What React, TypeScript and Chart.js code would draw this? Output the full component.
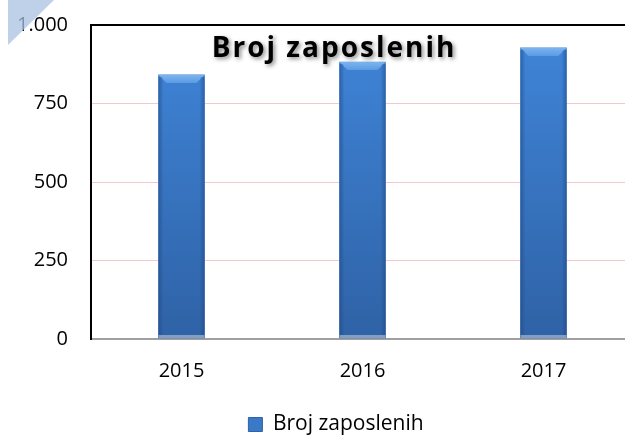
import React, { useEffect, useRef } from "react";
import { Chart, registerables } from "chart.js";

Chart.register(...registerables);

const categories = ["2015", "2016", "2017"];
const seriesName = "Broj zaposlenih";
const values = [841, 882, 927];
const yTicks = [0, 250, 500, 750, 1000];
const titleText = "Broj zaposlenih";

const FONT = "'Open Sans', 'DejaVu Sans', sans-serif";

const barBevelPlugin = {
  id: "barBevel",
  afterDatasetsDraw(chart: any) {
    const ctx = chart.ctx;
    const meta = chart.getDatasetMeta(0);
    meta.data.forEach((bar: any) => {
      const { x, y, width, base } = bar.getProps(["x", "y", "width", "base"], true);
      const l = x - width / 2;
      const r = x + width / 2;
      const bev = 8;
      ctx.save();
      const g = ctx.createLinearGradient(0, y, 0, y + bev);
      g.addColorStop(0, "#7db4ee");
      g.addColorStop(1, "#5a9be4");
      ctx.fillStyle = g;
      ctx.beginPath();
      ctx.moveTo(l, y);
      ctx.lineTo(r, y);
      ctx.lineTo(r - bev, y + bev);
      ctx.lineTo(l + bev, y + bev);
      ctx.closePath();
      ctx.fill();
      const gl = ctx.createLinearGradient(l, 0, l + 5, 0);
      gl.addColorStop(0, "rgba(30,70,130,0.55)");
      gl.addColorStop(1, "rgba(30,70,130,0)");
      ctx.fillStyle = gl;
      ctx.fillRect(l, y + 2, 5, base - y - 2);
      const gr = ctx.createLinearGradient(r - 5, 0, r, 0);
      gr.addColorStop(0, "rgba(30,70,130,0)");
      gr.addColorStop(1, "rgba(30,70,130,0.55)");
      ctx.fillStyle = gr;
      ctx.fillRect(r - 5, y + 2, 5, base - y - 2);
      ctx.fillStyle = "rgba(140,165,200,0.9)";
      ctx.fillRect(l, base - 3, width, 3);
      ctx.restore();
    });
  },
};

const overlayPlugin = {
  id: "overlay",
  afterLayout(chart: any) {
    if (chart.legend) {
      chart.legend.left = 38;
    }
  },
  afterDraw(chart: any) {
    const ctx = chart.ctx;
    ctx.save();
    ctx.font = `bold 28px ${FONT}`;
    (ctx as any).letterSpacing = "2px";
    ctx.textAlign = "center";
    ctx.textBaseline = "alphabetic";
    ctx.shadowColor = "rgba(0,0,0,0.45)";
    ctx.shadowBlur = 4;
    ctx.shadowOffsetX = 2;
    ctx.shadowOffsetY = 2;
    ctx.fillStyle = "#000";
    ctx.fillText(titleText, 334, 57);
    ctx.restore();
    ctx.save();
    ctx.fillStyle = "rgba(170,192,226,0.75)";
    ctx.beginPath();
    ctx.moveTo(8, 0);
    ctx.lineTo(54, 0);
    ctx.lineTo(8, 45);
    ctx.closePath();
    ctx.fill();
    ctx.restore();
  },
};

export default function App() {
  const ref = useRef<HTMLCanvasElement | null>(null);

  useEffect(() => {
    if (!ref.current) return;
    const chart = new Chart(ref.current, {
      type: "bar",
      data: {
        labels: categories,
        datasets: [
          {
            label: seriesName,
            data: values,
            barThickness: 46,
            borderWidth: 0,
            backgroundColor: (c: any) => {
              const area = c.chart.chartArea;
              if (!area) return "#3a78c8";
              const g = c.chart.ctx.createLinearGradient(0, area.top, 0, area.bottom);
              g.addColorStop(0, "#4086da");
              g.addColorStop(1, "#2f62a6");
              return g;
            },
          },
        ],
      },
      options: {
        animation: false,
        responsive: false,
        maintainAspectRatio: false,
        layout: { padding: { left: 0, right: 6, top: 25, bottom: 0 } },
        scales: {
          x: {
            grid: { display: false, drawTicks: false },
            border: { display: true, color: "#a0a0a0", width: 2 },
            ticks: { color: "#000", font: { family: FONT, size: 20 }, padding: 20 },
            afterFit: (s: any) => {
              s.height = 69;
              s.paddingLeft = 0;
              s.paddingRight = 0;
            },
          },
          y: {
            min: 0,
            max: 1000,
            afterBuildTicks: (s: any) => {
              s.ticks = yTicks.map((v) => ({ value: v }));
            },
            grid: {
              drawTicks: false,
              color: (c: any) =>
                c.tick && c.tick.value === 1000 ? "#000" : c.tick && c.tick.value === 0 ? "#a0a0a0" : "#f3c8cc",
              lineWidth: (c: any) => (c.tick && (c.tick.value === 1000 || c.tick.value === 0) ? 2 : 1),
            },
            border: { display: true, color: "#000", width: 2 },
            ticks: {
              color: "#000",
              font: { family: FONT, size: 20 },
              padding: 23,
              callback: (v: any) => Number(v).toLocaleString("de-DE"),
            },
            afterFit: (s: any) => {
              s.width = 91;
              s.paddingTop = 0;
              s.paddingBottom = 0;
            },
          },
        },
        plugins: {
          title: { display: false },
          tooltip: { enabled: false },
          legend: {
            position: "bottom",
            labels: {
              color: "#000",
              font: { family: FONT, size: 21 },
              boxWidth: 14,
              boxHeight: 14,
              padding: 6,
              generateLabels: () => [
                {
                  text: seriesName,
                  fillStyle: "#3a78c8",
                  strokeStyle: "#2f62a6",
                  lineWidth: 1,
                  hidden: false,
                  datasetIndex: 0,
                },
              ],
            },
          },
        },
      },
      plugins: [barBevelPlugin, overlayPlugin],
    });
    return () => chart.destroy();
  }, []);

  return (
    <div
      style={{
        position: "absolute",
        left: 0,
        top: 0,
        width: 625,
        height: 435,
        overflow: "hidden",
        background: "#fff",
      }}
    >
      <canvas ref={ref} width={640} height={445} style={{ width: 640, height: 445, display: "block" }} />
    </div>
  );
}
